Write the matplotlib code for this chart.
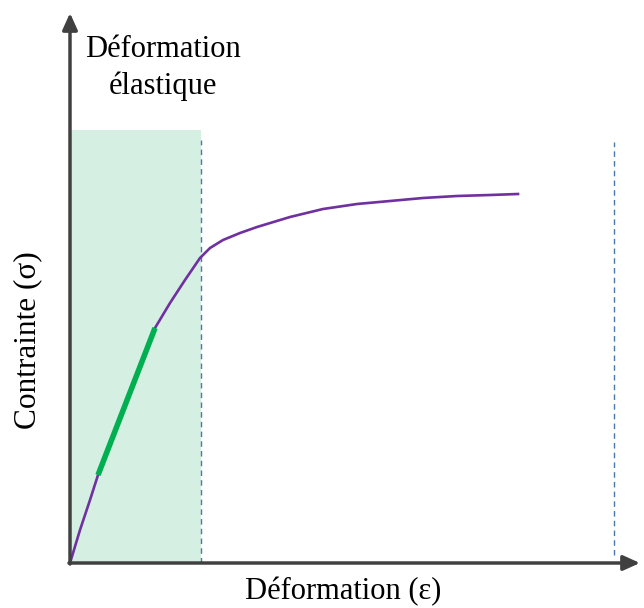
import matplotlib.pyplot as plt

# stress-strain curve (arbitrary units)
strain = [0, 10, 20, 28, 56, 85, 100, 115, 130, 140, 153, 170, 187, 220, 253,
          287, 320, 353, 387, 420, 448]
stress = [0, 33, 63, 88, 162, 235, 260, 283, 305, 315, 323, 330, 336, 346, 354,
          359, 362, 365, 367, 368, 369]

# linear (Hooke) part highlighted in green
lin_strain = [28, 85]
lin_stress = [88, 235]

elastic_limit = 131
elastic_top = 433
rupture = 544
rupture_top = 421

plt.rcParams['font.family'] = ['Liberation Serif', 'DejaVu Serif']

fig = plt.figure(figsize=(6.44, 6.08), dpi=100)
ax = fig.add_axes([0, 0, 1, 1])
ax.set_xlim(-70, 574)
ax.set_ylim(-45, 563)
ax.axis('off')

# elastic zone
ax.fill_between([0, elastic_limit], 0, elastic_top, color='#d5f0e3', lw=0, zorder=0)
ax.plot([elastic_limit, elastic_limit], [0, elastic_top - 10], ls=(0, (4, 3)),
        color='#4a78a8', lw=1)
ax.plot([rupture, rupture], [8, rupture_top], ls=(0, (4, 3)), color='#4a78a8', lw=1)

# curve
ax.plot(strain, stress, color='#7030a0', lw=1.9, zorder=3)
ax.plot(lin_strain, lin_stress, color='#00b050', lw=4, solid_capstyle='butt', zorder=4)

# axes with arrows
arrow = dict(arrowstyle='-|>,head_length=1.0,head_width=0.45', color='#404040',
             lw=2.5, shrinkA=0, shrinkB=0)
ax.annotate('', xy=(570, 0), xytext=(-1, 0), arrowprops=arrow, zorder=5)
ax.annotate('', xy=(0, 550), xytext=(0, -1), arrowprops=arrow, zorder=5)

ax.text(93, 495, 'Déformation\nélastique', ha='center', va='center',
        fontsize=22, linespacing=1.3)
ax.text(273, -29, 'Déformation (ε)', ha='center', va='center', fontsize=22)
ax.text(-42, 223, 'Contrainte (σ)', ha='center', va='center', rotation=90, fontsize=22.5)

fig.savefig('out.png', dpi=100)
